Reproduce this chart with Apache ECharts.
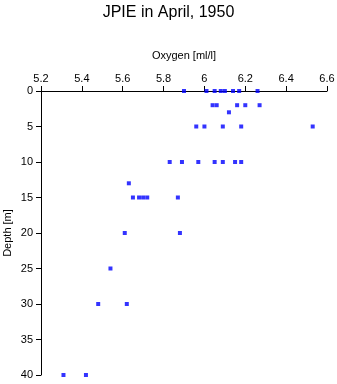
<!DOCTYPE html>
<html><head><meta charset="utf-8">
<script src="https://cdn.jsdelivr.net/npm/echarts@6/dist/echarts.min.js"></script>
<style>html,body{margin:0;padding:0;background:#fff}#c{width:337px;height:384px}</style>
</head><body><div id="c"></div>
<script>
const titleText = "JPIE in April, 1950";
const xName = "Oxygen [ml/l]";
const yName = "Depth [m]";
const depths = [0,0,0,0,0,0,0,0, 2,2,2,2,2, 3, 5,5,5,5,5, 10,10,10,10,10,10,10, 13, 15,15,15,15,15, 20,20, 25, 30,30, 40,40];
const oxygen = [5.90,6.01,6.05,6.08,6.10,6.14,6.17,6.26, 6.04,6.06,6.16,6.20,6.27, 6.12, 5.96,6.00,6.09,6.18,6.53, 5.83,5.89,5.97,6.05,6.09,6.15,6.18, 5.63, 5.65,5.68,5.70,5.72,5.87, 5.61,5.88, 5.54, 5.48,5.62, 5.31,5.42];
const data = oxygen.map((v,i)=>[v, depths[i]]);
const font = "Liberation Sans, Arial, sans-serif";
const chart = echarts.init(document.getElementById('c'), null, {renderer:'canvas'});
chart.setOption({
  animation:false,
  title:{text:titleText,left:'center',top:0,textStyle:{fontFamily:font,fontSize:16,fontWeight:'normal',color:'#000'}},
  grid:{left:41,top:91,right:10,bottom:9,containLabel:false,outerBoundsMode:'none'},
  graphic:[{type:'text',x:8,y:233,rotation:Math.PI/2,
    style:{text:yName,fill:'#000',font:'11px "Liberation Sans", Arial, sans-serif',align:'center',verticalAlign:'middle'}}],
  xAxis:{type:'value',position:'top',min:5.2,max:6.6,interval:0.2,
    name:xName,nameLocation:'middle',nameGap:30,
    nameTextStyle:{fontFamily:font,fontSize:11,color:'#000'},
    axisLine:{show:true,lineStyle:{color:'#000',width:1}},
    axisTick:{show:true,length:5,lineStyle:{color:'#000'}},
    axisLabel:{fontFamily:font,fontSize:11,color:'#000',margin:7},
    splitLine:{show:false}},
  yAxis:{type:'value',inverse:true,min:0,max:40,interval:5,
    axisLine:{show:true,lineStyle:{color:'#000',width:1}},
    axisTick:{show:true,length:5,lineStyle:{color:'#000'}},
    axisLabel:{fontFamily:font,fontSize:11,color:'#000',margin:8},
    splitLine:{show:false}},
  series:[{type:'scatter',data:data,symbol:'rect',symbolSize:4,itemStyle:{color:'#0000ff'}}]
});
</script></body></html>
